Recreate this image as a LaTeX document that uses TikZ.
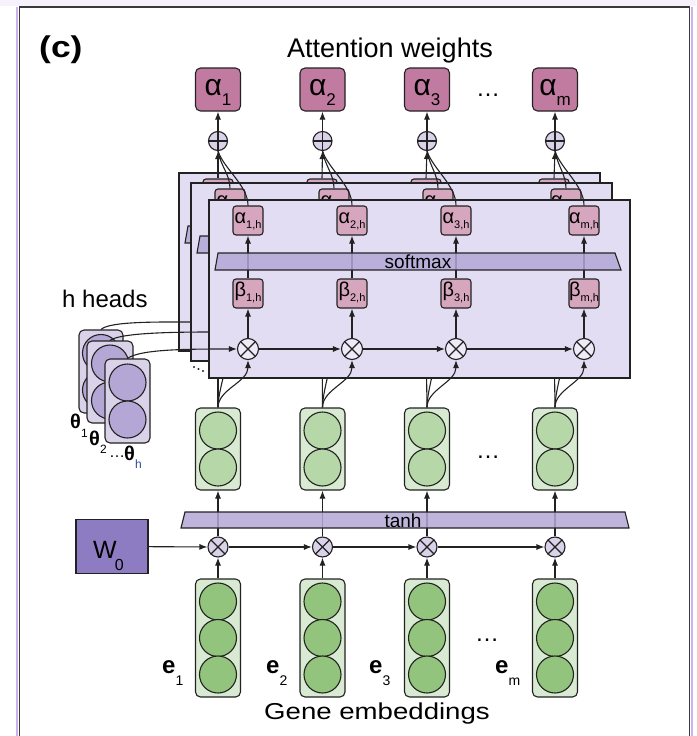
\documentclass[tikz,border=0pt]{standalone}
\usepackage{fontspec}
\setmainfont{Liberation Sans}
\usetikzlibrary{arrows.meta}
\definecolor{amag}{HTML}{C27BA0}
\definecolor{lmag}{HTML}{D5A6BD}
\definecolor{lav}{HTML}{D9D2E9}
\definecolor{panelc}{HTML}{E2DDF2}
\definecolor{barc}{HTML}{B4A7D6}
\definecolor{wc}{HTML}{8E7CC3}
\definecolor{gboxc}{HTML}{D9EAD3}
\definecolor{gca}{HTML}{B6D7A8}
\definecolor{gcb}{HTML}{93C47D}
\definecolor{edge}{HTML}{222222}
\definecolor{otfc}{HTML}{EEEAF7}
\definecolor{fstrip}{HTML}{CDB0F2}
\definecolor{framec}{HTML}{3A3A3A}
\definecolor{topbg}{HTML}{F6F2FB}
\definecolor{hblue}{HTML}{2A4A9A}
\newcommand\fsz[1]{\fontsize{#1}{#1}\selectfont}
\newcommand\lsub[3]{\raisebox{-#2pt}{\fsz{#1}#3}}
\tikzset{
  lw/.style={line width=1.1pt, draw=edge},
  arr/.style={-{Latex[length=8pt,width=6pt]}},
  abox/.style={draw=edge, line width=1.1pt, fill=amag, rounded corners=5pt, minimum width=45pt, minimum height=43pt, inner sep=0, font=\fsz{30}, text height=16pt, text depth=4pt},
  hbox/.style={draw=edge, line width=1.1pt, fill=lmag, rounded corners=3pt, minimum width=30pt, minimum height=29pt, inner sep=0, font=\fsz{20}, text height=9pt, text depth=4pt},
  plusc/.style={circle, draw=edge, line width=1.1pt, fill=lav, minimum size=19pt, inner sep=0,
    path picture={\draw[line width=1.1pt, edge] (path picture bounding box.north) -- (path picture bounding box.south) (path picture bounding box.west) -- (path picture bounding box.east);}},
  crossc/.style={circle, draw=edge, line width=1.1pt, fill=#1, minimum size=21pt, inner sep=0,
    path picture={\draw[line width=1.1pt, edge] (path picture bounding box.north west) -- (path picture bounding box.south east) (path picture bounding box.north east) -- (path picture bounding box.south west);}},
  panel/.style={draw=edge, line width=1.1pt, fill=panelc, minimum width=421pt, minimum height=178pt, inner sep=0},
  gbox/.style={draw=edge, line width=1.1pt, fill=gboxc, rounded corners=5pt, minimum width=45pt, inner sep=0},
  gcirc/.style={circle, draw=edge, line width=1.1pt, fill=#1, minimum size=37pt, inner sep=0},
  tbox/.style={draw=edge, line width=1.1pt, fill=lav, rounded corners=5pt, inner sep=0},
  wbox/.style={draw=edge, line width=1.1pt, fill=wc, minimum width=72pt, minimum height=54pt, inner sep=0},
  bar/.style={draw=edge, line width=1.1pt, fill=barc, fill opacity=0.85},
}
\newcommand\panelbody{%
  \node[panel] (pan) at (419.5,289) {};
  \foreach \x/\k/\s in {248/1/1,352/2/2,456/3/3,584/4/m}{%
    \node[hbox] (a\k) at (\x,220.5) {α\lsub{11}{5}{\s,h}};
    \node[hbox] (b\k) at (\x,293.5) {β\lsub{11}{5}{\s,h}};
    \node[crossc=otfc] (x\k) at (\x,349) {};
    \draw[lw,arr] (x\k) -- (b\k);
    \draw[lw,arr] (b\k) -- (a\k);
  }
  \draw[lw,arr] (x1) -- (x2);
  \draw[lw,arr] (x2) -- (x3);
  \draw[lw,arr] (x3) -- (x4);
  \draw[bar] (218,253) -- (615,253) -- (621,270) -- (215,270) -- cycle;
  \node[anchor=base, font=\fsz{19}, inner sep=0] (smx) at (418,268) {softmax};
}
\begin{document}
\begin{tikzpicture}[x=1pt,y=-1pt]
\useasboundingbox (0,0) rectangle (696,736);
% frame
\fill[topbg] (0,0) rectangle (696,6);
\draw[line width=2.5pt, fstrip] (17,7) -- (17,736);
\draw[line width=2.5pt, fstrip] (692,7) -- (692,736);
\draw[line width=1.3pt, framec] (19.5,736) -- (19.5,7) -- (689.5,7) -- (689.5,736);
% titles
\node[anchor=base west, font=\fsz{30}\bfseries, xscale=1.18, transform shape, inner sep=0] (lc) at (39,57) {(c)};
\node[anchor=base, font=\fsz{27}, inner sep=0] (ttl) at (390,57) {Attention weights};
\node[anchor=base, font=\fsz{23}, xscale=1.2, transform shape, inner sep=0] (gene) at (377,719) {Gene embeddings};
\node[anchor=base west, font=\fsz{24}, inner sep=0] (hh) at (62,307) {h heads};
% top alphas
\foreach \x/\k/\s in {218/1/1,322.5/2/2,427/3/3,555/4/m}{
  \node[abox] (A\k) at (\x,89.5) {α\lsub{17}{10}{\s}};
  \node[plusc] (P\k) at (\x,141) {};
  \draw[lw,arr] (P\k) -- (A\k);
}
\node[anchor=base, font=\fsz{24}, inner sep=0] (dt) at (488,96.5) {…};
% hidden / embeddings / bottom cross row
\foreach \x/\k in {218/1,322.5/2,427/3,555/4}{
  \node[gbox, minimum height=82pt] (H\k) at (\x,449) {};
  \node[gcirc=gca] (H\k-u) at (\x,430.5) {};
  \node[gcirc=gca] (H\k-d) at (\x,467.5) {};
  \node[gbox, minimum height=118pt] (E\k) at (\x,638) {};
  \node[gcirc=gcb] (E\k-u) at (\x,601.5) {};
  \node[gcirc=gcb] (E\k-m) at (\x,638) {};
  \node[gcirc=gcb] (E\k-d) at (\x,674.5) {};
  \node[crossc=lav, minimum size=20pt] (O\k) at (\x,547) {};
  \draw[lw,arr] (E\k) -- (O\k);
  \draw[lw,arr] (O\k) -- (H\k);
}
\node[anchor=base, font=\fsz{24}, inner sep=0] (dh) at (488,458.5) {…};
\node[anchor=base, font=\fsz{24}, inner sep=0] (de) at (487,641.5) {…};
\draw[bar] (185,512) -- (625,512) -- (629,528) -- (181,528) -- cycle;
\node[anchor=base, font=\fsz{19}, inner sep=0] (tanhl) at (403,527) {tanh};
% W0
\node[wbox] (W) at (112,546.5) {};
\node[anchor=base west, font=\fsz{25}, inner sep=0] (wl) at (93,558) {W\hspace{-2pt}\lsub{16}{12}{0}};
\draw[lw,arr] (W) -- (O1);
\draw[lw,arr] (O1) -- (O2);
\draw[lw,arr] (O2) -- (O3);
\draw[lw,arr] (O3) -- (O4);
% embedding labels
\node[anchor=base west, font=\fsz{24}, inner sep=0] (e1) at (162,673) {{\bfseries e}\lsub{14}{12}{1}};
\node[anchor=base west, font=\fsz{24}, inner sep=0] (e2) at (266,673) {{\bfseries e}\lsub{14}{12}{2}};
\node[anchor=base west, font=\fsz{24}, inner sep=0] (e3) at (369,673) {{\bfseries e}\lsub{14}{12}{3}};
\node[anchor=base west, font=\fsz{24}, inner sep=0] (em) at (495,673) {{\bfseries e}\lsub{14}{12}{m}};
% theta heads
\node[tbox, minimum width=44pt, minimum height=83pt] (T1) at (101,371.5) {};
\node[gcirc=barc] (T1-u) at (101,353) {};
\node[gcirc=barc] (T1-d) at (101,390) {};
\node[tbox, minimum width=46pt, minimum height=82pt] (T2) at (110,382) {};
\node[gcirc=barc] (T2-u) at (110,363.5) {};
\node[gcirc=barc] (T2-d) at (110,400.5) {};
\node[tbox, minimum width=45pt, minimum height=84pt] (T3) at (127.5,401) {};
\node[gcirc=barc] (T3-u) at (127.5,382.5) {};
\node[gcirc=barc] (T3-d) at (127.5,419.5) {};
\node[anchor=base west, font=\fsz{20}, inner sep=0] (th1) at (70,428) {{\bfseries θ}\lsub{12}{9}{1}};
\node[anchor=base west, font=\fsz{20}, inner sep=0] (th2) at (89,445) {{\bfseries θ}\lsub{12}{8}{2}};
\node[anchor=base, font=\fsz{16}, inner sep=0] (thd) at (117,457.5) {…};
\node[anchor=base west, font=\fsz{20}, inner sep=0] (th3) at (124,460) {{\bfseries θ}\lsub{12}{8}{\color{hblue}h}};
% stacked heads: back
\begin{scope}[shift={(-30,-27)}, name prefix=b-]
\panelbody
\end{scope}
\draw[lw,arr] (T1.north) .. controls (110,321) and (160,322) .. (b-x1.west);
\foreach \k in {1,...,4}{
  \draw[lw,arr] (H\k.north) -- (b-x\k.south);
}
% middle
\begin{scope}[shift={(-18,-17)}, name prefix=m-]
\panelbody
\end{scope}
\draw[lw,arr] (T2.north) .. controls (120,333) and (170,332) .. (m-x1.west);
\foreach \k in {1,...,4}{
  \draw[lw,arr] (H\k.north) .. controls +(0,-16) and +(-2,20) .. (m-x\k.south);
}
% front
\begin{scope}[name prefix=f-]
\panelbody
\end{scope}
\draw[lw,arr] (T3.north) .. controls (140,349) and (190,349) .. (f-x1.west);
\foreach \k in {1,...,4}{
  \draw[lw,arr] (H\k.north) .. controls +(0,-18) and +(0,22) .. (f-x\k.south);
}
\fill[edge] (194,367) circle[radius=1.1pt] (198.5,369) circle[radius=1.1pt] (203,371) circle[radius=1.1pt];
% connections to the sums
\foreach \k in {1,...,4}{
  \draw[lw,arr] (b-a\k.north) -- (P\k.south);
  \draw[lw] (m-a\k.north) .. controls +(0,-14) and +(3,16) .. (P\k.south);
  \draw[lw] (f-a\k.north) .. controls +(0,-20) and +(6,18) .. (P\k.south);
}
\end{tikzpicture}
\end{document}
